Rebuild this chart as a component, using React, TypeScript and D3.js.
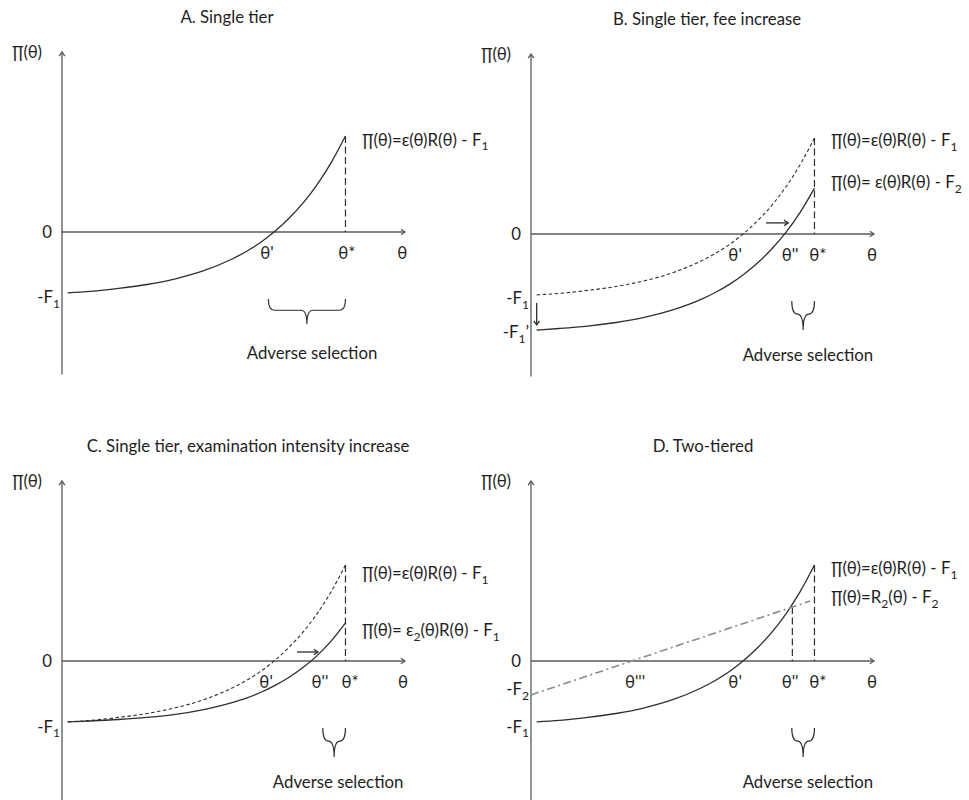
import React from "react";
import * as d3 from "d3";

// Sample points along the profit curves Π(θ), in axis units.
const curveTheta = [0.2, 1, 2, 3, 4, 5, 6, 6.5, 7, 7.5, 8, 8.5, 9, 9.5, 10];
const baseProfit = [-2.03, -1.98, -1.88, -1.75, -1.56, -1.29, -0.9, -0.65, -0.35, 0.015, 0.45, 0.96, 1.58, 2.32, 3.2];
const higherFeeProfit = [-3.2, -3.15, -3.07, -2.95, -2.78, -2.53, -2.18, -1.95, -1.68, -1.35, -0.96, -0.49, 0.06, 0.73, 1.53];
const lowerIntensityProfit = [-2.03, -2.0, -1.95, -1.88, -1.78, -1.62, -1.39, -1.24, -1.05, -0.82, -0.55, -0.22, 0.18, 0.67, 1.27];

// Second tier: straight line R2(θ) - F2
const secondTierTheta = [0, 9.85];
const secondTierProfit = [-1.13, 2.0];

// Key θ values
const thetaStar = 10;
const thetaDoublePrimeD = 9.22;

// Axis labels (θ position of each label, text)
const xLabelsA = [
  { at: 7.23, text: "θ'" },
  { at: 10.05, text: "θ*" },
  { at: 12.0, text: "θ" },
];
const xLabelsB = [
  { at: 7.2, text: "θ'" },
  { at: 9.14, text: "θ''" },
  { at: 10.12, text: "θ*" },
  { at: 12.03, text: "θ" },
];
const xLabelsC = [
  { at: 7.2, text: "θ'" },
  { at: 9.1, text: "θ''" },
  { at: 10.16, text: "θ*" },
  { at: 12.03, text: "θ" },
];
const xLabelsD = [
  { at: 3.67, text: "θ'''" },
  { at: 7.2, text: "θ'" },
  { at: 9.14, text: "θ''" },
  { at: 10.12, text: "θ*" },
  { at: 12.03, text: "θ" },
];

const yLabelsA = [{ at: -2.2, text: "-F_1" }];
const yLabelsB = [
  { at: -2.17, text: "-F_1" },
  { at: -3.3, text: "-F_1’" },
];
const yLabelsC = [{ at: -2.23, text: "-F_1" }];
const yLabelsD = [
  { at: -0.97, text: "-F_2" },
  { at: -2.23, text: "-F_1" },
];

const W = 969;
const H = 800;

const x = d3.scaleLinear().domain([0, 12.1]).range([0, 343]);
const y = d3.scaleLinear().domain([-4.75, 6]).range([142.5, -180]);

const AXIS = "#5a5a5a";
const INK = "#2e2e2e";
const TEXT = "#1e1e1e";
const FONT = "Lato, 'Open Sans', 'DejaVu Sans', sans-serif";
const FS = 16.8;

const lineGen = d3
  .line<[number, number]>()
  .x((d) => x(d[0]))
  .y((d) => y(d[1]))
  .curve(d3.curveMonotoneX);

function pts(xs: number[], ys: number[]): [number, number][] {
  return xs.map((v, i) => [v, ys[i]]);
}

// Renders text where "_c" puts the following character as a subscript
function Rich({ text, size }: { text: string; size: number }) {
  const parts = text.split(/_(.)/);
  const out: React.ReactNode[] = [];
  let lowered = false;
  parts.forEach((p, i) => {
    if (!p) return;
    if (i % 2 === 1) {
      out.push(
        <tspan key={i} fontSize={size * 0.72} dy={lowered ? 0 : 4.5}>
          {p}
        </tspan>
      );
      lowered = true;
    } else {
      out.push(
        <tspan key={i} dy={lowered ? -4.5 : 0}>
          {p}
        </tspan>
      );
      lowered = false;
    }
  });
  return <>{out}</>;
}

type Curve = { data: [number, number][]; dash?: string; color?: string; width?: number };

type PanelProps = {
  ox: number;
  oy: number;
  title: string;
  titleX: number;
  curves: Curve[];
  verticals: { at: number; top: number }[];
  xLabels: { at: number; text: string }[];
  yLabels: { at: number; text: string }[];
  equations: { at: number; text: string }[];
  brace: [number, number];
  braceTipY: number;
  adverseAt: number;
  arrows?: { from: [number, number]; to: [number, number] }[];
};

function Chevron({
  x1,
  y1,
  x2,
  y2,
  size = 5,
  color = AXIS,
}: {
  x1: number;
  y1: number;
  x2: number;
  y2: number;
  size?: number;
  color?: string;
}) {
  const ang = Math.atan2(y2 - y1, x2 - x1);
  const a1 = ang + Math.PI - 0.6;
  const a2 = ang + Math.PI + 0.6;
  const p = `M${x2 + size * Math.cos(a1)},${y2 + size * Math.sin(a1)}L${x2},${y2}L${x2 + size * Math.cos(a2)},${y2 + size * Math.sin(a2)}`;
  return (
    <g stroke={color} strokeWidth={1.3} fill="none">
      <line x1={x1} y1={y1} x2={x2} y2={y2} />
      <path d={p} />
    </g>
  );
}

function Brace({ x0, x1, top, tip }: { x0: number; x1: number; top: number; tip: number }) {
  const mid = top + (tip - top) * 0.45;
  const c = (x0 + x1) / 2;
  const r = Math.min(6, (x1 - x0) / 4);
  const d = [
    `M${x0},${top}`,
    `Q${x0},${mid} ${x0 + r},${mid}`,
    `L${c - r},${mid}`,
    `Q${c},${mid} ${c},${tip}`,
    `Q${c},${mid} ${c + r},${mid}`,
    `L${x1 - r},${mid}`,
    `Q${x1},${mid} ${x1},${top}`,
  ].join(" ");
  return <path d={d} fill="none" stroke={INK} strokeWidth={1.2} />;
}

function Panel(p: PanelProps) {
  const fs = FS;
  return (
    <g>
      <text x={p.titleX} y={p.oy - 209} textAnchor="middle" fontSize={fs} fill={TEXT} fontFamily={FONT}>
        {p.title}
      </text>
      <g transform={`translate(${p.ox},${p.oy})`} fontFamily={FONT} fill={TEXT}>
        {/* axes */}
        <Chevron x1={0} y1={y(-4.75)} x2={0} y2={y(6)} />
        <Chevron x1={0} y1={0} x2={x(12.1)} y2={0} />
        <text x={-50} y={y(6) + 6} fontSize={fs}>
          ∏(θ)
        </text>
        <text x={-10} y={6} fontSize={fs} textAnchor="end">
          0
        </text>
        {p.yLabels.map((l, i) => (
          <text key={i} x={-2} y={y(l.at) + 5} fontSize={fs} textAnchor="end">
            <Rich text={l.text} size={fs} />
          </text>
        ))}
        {p.xLabels.map((l, i) => (
          <text key={i} x={x(l.at)} y={27} fontSize={fs} textAnchor="middle">
            {l.text}
          </text>
        ))}
        {/* dashed drop lines */}
        {p.verticals.map((v, i) => (
          <line
            key={i}
            x1={x(v.at)}
            x2={x(v.at)}
            y1={y(v.top)}
            y2={0}
            stroke={INK}
            strokeWidth={1.2}
            strokeDasharray="7,3.5"
          />
        ))}
        {/* curves */}
        {p.curves.map((c, i) => (
          <path
            key={i}
            d={lineGen(c.data) || ""}
            fill="none"
            stroke={c.color || INK}
            strokeWidth={c.width || 1.3}
            strokeDasharray={c.dash}
          />
        ))}
        {(p.arrows || []).map((a, i) => (
          <Chevron
            key={i}
            x1={x(a.from[0])}
            y1={y(a.from[1])}
            x2={x(a.to[0])}
            y2={y(a.to[1])}
            size={5}
            color={INK}
          />
        ))}
        {p.equations.map((e, i) => (
          <text key={i} x={300} y={y(e.at) + 6} fontSize={fs}>
            <Rich text={e.text} size={fs} />
          </text>
        ))}
        <Brace x0={x(p.brace[0])} x1={x(p.brace[1])} top={67} tip={p.braceTipY} />
        <text x={x(p.adverseAt)} y={127} fontSize={fs} textAnchor="middle">
          Adverse selection
        </text>
      </g>
    </g>
  );
}

export default function App() {
  const base = pts(curveTheta, baseProfit);
  const fee = pts(curveTheta, higherFeeProfit);
  const intensity = pts(curveTheta, lowerIntensityProfit);
  const tier2 = pts(secondTierTheta, secondTierProfit);
  const tier2At = (t: number) =>
    secondTierProfit[0] +
    ((secondTierProfit[1] - secondTierProfit[0]) * (t - secondTierTheta[0])) / (secondTierTheta[1] - secondTierTheta[0]);

  return (
    <svg width={W} height={H} style={{ position: "absolute", left: 0, top: 0, background: "#fff" }}>
      <rect width={W} height={H} fill="#fff" />
      <Panel
        ox={62}
        oy={232}
        title="A. Single tier"
        titleX={227}
        curves={[{ data: base }]}
        verticals={[{ at: thetaStar, top: baseProfit[baseProfit.length - 1] }]}
        xLabels={xLabelsA}
        yLabels={yLabelsA}
        equations={[{ at: 3.07, text: "∏(θ)=ε(θ)R(θ) - F_1" }]}
        brace={[7.28, thetaStar]}
        braceTipY={92}
        adverseAt={8.82}
      />
      <Panel
        ox={531}
        oy={234}
        title="B. Single tier, fee increase"
        titleX={707}
        curves={[{ data: base, dash: "3.5,2.5", width: 1.1 }, { data: fee }]}
        verticals={[{ at: thetaStar, top: baseProfit[baseProfit.length - 1] }]}
        xLabels={xLabelsB}
        yLabels={yLabelsB}
        equations={[
          { at: 3.13, text: "∏(θ)=ε(θ)R(θ) - F_1" },
          { at: 1.73, text: "∏(θ)= ε(θ)R(θ) - F_2" },
        ]}
        brace={[9.2, thetaStar]}
        braceTipY={96}
        adverseAt={9.77}
        arrows={[
          { from: [8.29, 0.37], to: [9.07, 0.37] },
          { from: [0.2, -2.3], to: [0.2, -3.03] },
        ]}
      />
      <Panel
        ox={62}
        oy={661}
        title="C. Single tier, examination intensity increase"
        titleX={248}
        curves={[{ data: base, dash: "3.5,2.5", width: 1.1 }, { data: intensity }]}
        verticals={[{ at: thetaStar, top: baseProfit[baseProfit.length - 1] }]}
        xLabels={xLabelsC}
        yLabels={yLabelsC}
        equations={[
          { at: 2.93, text: "∏(θ)=ε(θ)R(θ) - F_1" },
          { at: 1.03, text: "∏(θ)= ε_2(θ)R(θ) - F_1" },
        ]}
        brace={[9.2, thetaStar]}
        braceTipY={96}
        adverseAt={9.74}
        arrows={[{ from: [8.29, 0.3], to: [9.03, 0.3] }]}
      />
      <Panel
        ox={531}
        oy={661}
        title="D. Two-tiered"
        titleX={703}
        curves={[{ data: base }, { data: tier2, dash: "8,3.5,2,3.5", color: "#8c8c8c", width: 1.6 }]}
        verticals={[
          { at: thetaDoublePrimeD, top: tier2At(thetaDoublePrimeD) },
          { at: thetaStar, top: baseProfit[baseProfit.length - 1] },
        ]}
        xLabels={xLabelsD}
        yLabels={yLabelsD}
        equations={[
          { at: 3.1, text: "∏(θ)=ε(θ)R(θ) - F_1" },
          { at: 2.13, text: "∏(θ)=R_2(θ) - F_2" },
        ]}
        brace={[9.2, thetaStar]}
        braceTipY={96}
        adverseAt={9.77}
      />
    </svg>
  );
}
